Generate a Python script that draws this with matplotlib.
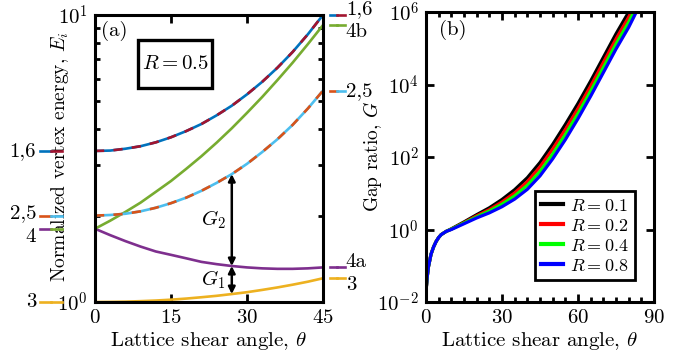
import numpy as np
import matplotlib
matplotlib.use("Agg")
import matplotlib.pyplot as plt
import matplotlib.transforms as mtransforms
from matplotlib.patches import Rectangle
from matplotlib.ticker import FixedLocator, FixedFormatter, NullFormatter, NullLocator

plt.rcParams['font.family'] = ['cmr10', 'DejaVu Serif']
plt.rcParams['mathtext.fontset'] = 'cm'
plt.rcParams['axes.formatter.use_mathtext'] = True
plt.rcParams['font.size'] = 15

# panel (a): normalized vertex energies vs shear angle
theta_a = [0, 3, 6, 9, 12, 15, 18, 21, 24, 27, 30, 33, 36, 39, 42, 45]
E_16 = [3.36, 3.37, 3.42, 3.49, 3.60, 3.75, 3.94, 4.17, 4.47, 4.83, 5.29, 5.85, 6.55, 7.43, 8.56, 10.0]
E_25 = [2.00, 2.01, 2.03, 2.07, 2.13, 2.21, 2.31, 2.44, 2.60, 2.79, 3.03, 3.33, 3.69, 4.14, 4.72, 5.45]
E_4b = [1.80, 1.92, 2.06, 2.22, 2.42, 2.64, 2.91, 3.22, 3.59, 4.03, 4.56, 5.18, 5.93, 6.82, 7.91, 9.22]
E_4a = [1.80, 1.71, 1.63, 1.56, 1.50, 1.46, 1.42, 1.38, 1.355, 1.335, 1.32, 1.31, 1.305, 1.305, 1.31, 1.32]
E_3 = [1.000, 1.001, 1.003, 1.007, 1.012, 1.019, 1.028, 1.039, 1.051, 1.066, 1.082, 1.102, 1.124, 1.149, 1.177, 1.210]

# panel (b): gap ratio (log10 G) vs shear angle for several R
theta_b = [0, 0.5, 1, 2, 3, 4, 5, 6, 8, 10, 15, 20, 25, 30, 35, 40, 45, 50, 55, 60, 65, 70, 75, 80, 85]
logG_01 = [-1.72, -1.30, -1.02, -0.68, -0.48, -0.33, -0.22, -0.14, -0.05, 0.02, 0.21, 0.41, 0.60, 0.83, 1.10, 1.43, 1.85, 2.35, 2.90, 3.48, 4.10, 4.75, 5.40, 6.00, 6.70]
logG_02 = [-1.72, -1.30, -1.02, -0.68, -0.48, -0.33, -0.22, -0.14, -0.05, 0.01, 0.19, 0.38, 0.55, 0.76, 1.01, 1.32, 1.73, 2.22, 2.76, 3.34, 3.96, 4.61, 5.26, 5.86, 6.56]
logG_04 = [-1.72, -1.30, -1.02, -0.68, -0.48, -0.33, -0.22, -0.14, -0.05, 0.01, 0.18, 0.35, 0.51, 0.70, 0.93, 1.22, 1.60, 2.08, 2.62, 3.20, 3.82, 4.47, 5.12, 5.72, 6.42]
logG_08 = [-1.72, -1.30, -1.02, -0.68, -0.48, -0.33, -0.22, -0.14, -0.05, 0.00, 0.16, 0.32, 0.46, 0.63, 0.84, 1.11, 1.48, 1.95, 2.48, 3.06, 3.68, 4.33, 4.98, 5.58, 6.28]
R_labels = ['$R = 0.1$', '$R = 0.2$', '$R = 0.4$', '$R = 0.8$']
R_colors = ['#000000', '#FF0000', '#00FF00', '#0000FF']

c_blue = '#0072BD'
c_orange = '#D95319'
c_yellow = '#EDB120'
c_purple = '#7E2F8E'
c_green = '#77AC30'
c_cyan = '#4DBEEE'
c_dred = '#A2142F'

fig = plt.figure(figsize=(6.77, 3.57), dpi=100)
ax1 = fig.add_axes([0.1403, 0.154, 0.3368, 0.804])
ax2 = fig.add_axes([0.6292, 0.154, 0.3368, 0.812])

lw = 1.9
dash = (0, (3.5, 3.5))
ax1.plot(theta_a, E_3, color=c_yellow, lw=lw)
ax1.plot(theta_a, E_4a, color=c_purple, lw=lw)
ax1.plot(theta_a, E_4b, color=c_green, lw=lw)
ax1.plot(theta_a, E_25, color=c_cyan, lw=lw)
ax1.plot(theta_a, E_25, color=c_orange, lw=lw, ls=dash)
ax1.plot(theta_a, E_16, color=c_blue, lw=lw)
ax1.plot(theta_a, E_16, color=c_dred, lw=lw, ls=dash)

ax1.set_yscale('log')
ax1.set_xlim(0, 45)
ax1.set_ylim(1, 10)
ax1.xaxis.set_major_locator(FixedLocator([0, 15, 30, 45]))
ax1.yaxis.set_major_locator(FixedLocator([1, 10]))
ax1.yaxis.set_major_formatter(FixedFormatter([r'$10^0$', r'$10^1$']))
ax1.yaxis.set_minor_locator(FixedLocator([2, 3, 4, 5, 6, 7, 8, 9]))
ax1.yaxis.set_minor_formatter(NullFormatter())
ax1.set_xlabel(r'Lattice shear angle, $\theta$', labelpad=2)
ax1.set_ylabel(r'Normalized vertex energy, $E_i$', fontsize=14)
ax1.yaxis.set_label_coords(-0.105, 0.505)

# double arrows for the gaps
i27 = theta_a.index(27)
arrow = dict(arrowstyle='<|-|>', color='k', lw=1.8, shrinkA=0, shrinkB=0, mutation_scale=10)
ax1.annotate('', xy=(27, E_25[i27]), xytext=(27, E_4a[i27]), arrowprops=arrow)
ax1.annotate('', xy=(27, E_4a[i27]), xytext=(27, E_3[i27]), arrowprops=arrow)
ax1.text(25.8, np.sqrt(E_25[i27] * E_4a[i27]), '$G_2$', ha='right', va='center')
ax1.text(25.8, np.sqrt(E_4a[i27] * E_3[i27]), '$G_1$', ha='right', va='center')

ax1.text(0.085, 0.944, '(a)', transform=ax1.transAxes, ha='center', va='center')
ax1.add_patch(Rectangle((0.189, 0.746), 0.324, 0.167, transform=ax1.transAxes,
                        fc='white', ec='k', lw=2.4, zorder=3))
ax1.text(0.351, 0.829, '$R = 0.5$', transform=ax1.transAxes, ha='center', va='center', zorder=4)

# state labels next to the axes
tr = mtransforms.blended_transform_factory(ax1.transAxes, ax1.transData)
def seg(y, c1, c2, x0, x1):
    xm = (x0 + x1) / 2
    ax1.plot([x0, xm], [y, y], color=c1, lw=lw, transform=tr, clip_on=False)
    ax1.plot([xm, x1], [y, y], color=c2, lw=lw, transform=tr, clip_on=False)

seg(E_16[0], c_blue, c_dred, -0.241, -0.145)
seg(E_25[0], c_orange, c_cyan, -0.241, -0.145)
seg(E_4a[0], c_purple, c_green, -0.241, -0.145)
seg(E_3[0], c_yellow, c_yellow, -0.241, -0.145)
for y, s, dy in [(E_16[0], '1,6', 0), (E_25[0], '2,5', 2), (E_4a[0], '4', -6), (E_3[0], '3', 0)]:
    ax1.annotate(s, xy=(-0.258, y), xycoords=tr, xytext=(0, dy), textcoords='offset points',
                 ha='right', va='center', annotation_clip=False)

seg(E_16[-1], c_blue, c_dred, 1.031, 1.096)
seg(E_4b[-1], c_green, c_green, 1.031, 1.096)
seg(E_25[-1], c_orange, c_cyan, 1.031, 1.096)
seg(E_4a[-1], c_purple, c_purple, 1.031, 1.096)
seg(E_3[-1], c_yellow, c_yellow, 1.031, 1.096)
for y, s, dy in [(E_16[-1], '1,6', 4), (E_4b[-1], '4b', -5), (E_25[-1], '2,5', 0),
                 (E_4a[-1], '4a', 4), (E_3[-1], '3', -5)]:
    ax1.annotate(s, xy=(1.1, y), xycoords=tr, xytext=(0, dy), textcoords='offset points',
                 ha='left', va='center', annotation_clip=False)

# panel (b)
for lg, lab, col in zip([logG_01, logG_02, logG_04, logG_08], R_labels, R_colors):
    ax2.plot(theta_b, 10 ** np.array(lg), color=col, lw=2.3, label=lab)
ax2.set_yscale('log')
ax2.set_xlim(0, 90)
ax2.set_ylim(1e-2, 1e6)
ax2.xaxis.set_major_locator(FixedLocator([0, 30, 60, 90]))
ax2.xaxis.set_minor_locator(FixedLocator([5, 10, 15, 20, 25, 35, 40, 45, 50, 55, 65, 70, 75, 80, 85]))
ax2.yaxis.set_major_locator(FixedLocator([1e-2, 1, 1e2, 1e4, 1e6]))
ax2.yaxis.set_major_formatter(FixedFormatter([r'$10^{-2}$', r'$10^{0}$', r'$10^{2}$',
                                              r'$10^{4}$', r'$10^{6}$']))
ax2.yaxis.set_minor_locator(NullLocator())
ax2.set_xlabel(r'Lattice shear angle, $\theta$', labelpad=2)
ax2.set_ylabel(r'Gap ratio, $G$', fontsize=14)
ax2.yaxis.set_label_coords(-0.184, 0.503)
ax2.text(0.118, 0.938, '(b)', transform=ax2.transAxes, ha='center', va='center')
leg = ax2.legend(loc='lower right', bbox_to_anchor=(0.955, 0.045), frameon=True, fancybox=False,
                 edgecolor='k', framealpha=1, handlelength=1.2, handletextpad=0.4,
                 borderpad=0.35, labelspacing=0.22, fontsize=13)
leg.get_frame().set_linewidth(2.0)
for h in leg.get_lines():
    h.set_linewidth(3)

for ax in (ax1, ax2):
    for sp in ax.spines.values():
        sp.set_linewidth(2.2)
    ax.tick_params(which='both', direction='in', top=True, right=True, width=2)
    ax.tick_params(which='major', length=6, pad=5)
    ax.tick_params(which='minor', length=3.5)

fig.savefig('out.png', dpi=100)
